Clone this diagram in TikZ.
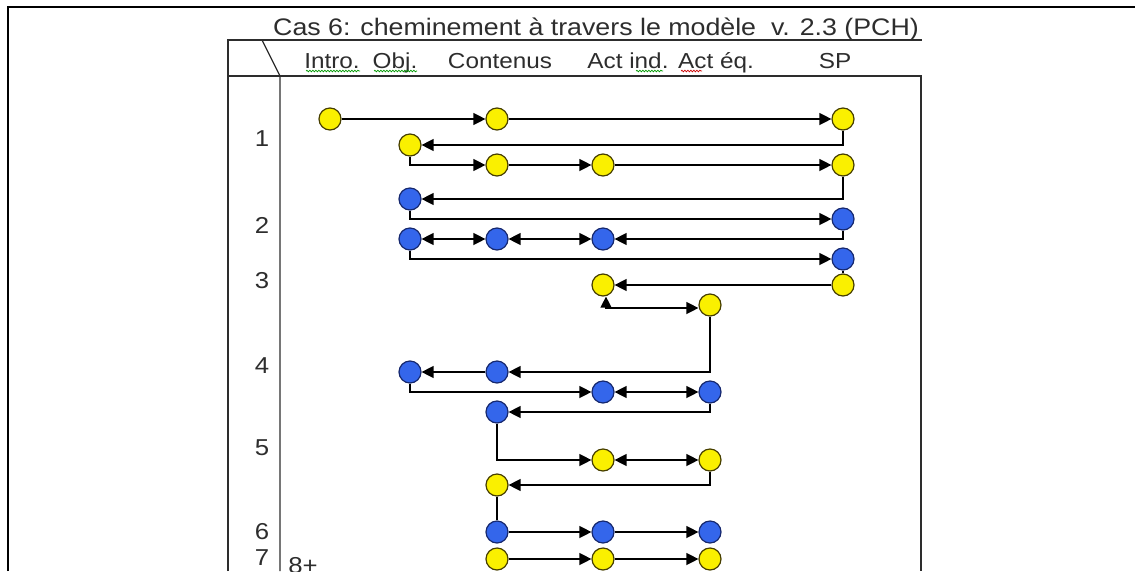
\documentclass[tikz,border=0pt]{standalone}
\usepackage{fontspec}
\setmainfont{Liberation Sans}[FakeStretch=1.12]
\usetikzlibrary{arrows.meta}
\usetikzlibrary{decorations.pathmorphing}

\definecolor{jaune}{RGB}{250,240,0}
\definecolor{jaunebord}{RGB}{70,62,0}
\definecolor{bleu}{RGB}{52,102,235}
\definecolor{bleubord}{RGB}{22,40,110}
\definecolor{gris}{RGB}{45,45,45}

\tikzset{
  pointJ/.style={circle, draw=jaunebord, fill=jaune, line width=1.2pt,
                 minimum size=22pt, inner sep=0pt},
  pointB/.style={circle, draw=bleubord, fill=bleu, line width=1.2pt,
                 minimum size=22pt, inner sep=0pt},
  fleche/.style={line width=1.3pt, -{Triangle[length=12pt,width=12pt]}},
  fleche2/.style={line width=1.3pt,
                  {Triangle[length=12pt,width=12pt]}-{Triangle[length=12pt,width=12pt]}},
  lien/.style={line width=1.3pt},
  cadre/.style={line width=1.2pt, draw=gris},
  entete/.style={anchor=base, font=\fontsize{21.7}{26}\selectfont},
  rang/.style={font=\fontsize{23}{27}\selectfont},
  souligne/.style={decorate, decoration={snake, amplitude=0.8pt, segment length=3pt},
                   line width=0.7pt}
}

\begin{document}
\begin{tikzpicture}[x=1pt, y=-1pt, text=gris]
\useasboundingbox (0,0) rectangle (1135,571);

% cadre et tableau
\draw[line width=2.5pt] (8,571) -- (8,7) -- (1135,7);
\draw[cadre] (228,571) -- (228,40) -- (922,40);
\draw[cadre] (228,76) -- (921,76) -- (921,571);
\draw[cadre] (262,40) -- (280,76) -- (280,571);

\node (titre) [anchor=base, font=\fontsize{23.9}{28}\selectfont]
      at (596,35) {Cas 6: cheminement à travers le modèle\ \ v. 2.3 (PCH)};
\node (intro) [entete] at (332,68) {Intro.};
\node (obj) [entete] at (395,68) {Obj.};
\node (cont) [entete] at (500,68) {Contenus};
\node (ind) [entete] at (628,68) {Act ind.};
\node (equ) [entete] at (716,68) {Act éq.};
\node (sp) [entete] at (835,68) {SP};

\draw[souligne, green!60!black] (306,71) -- (360,71);
\draw[souligne, green!60!black] (374,71) -- (417,71);
\draw[souligne, green!60!black] (636,71) -- (663,71);
\draw[souligne, red!80!black] (681,71) -- (702,71);

\node (n1) [rang] at (262,139) {1};
\node (n2) [rang] at (262,225) {2};
\node (n3) [rang] at (262,281) {3};
\node (n4) [rang] at (262,366) {4};
\node (n5) [rang] at (262,448) {5};
\node (n6) [rang] at (262,532) {6};
\node (n7) [rang] at (262,558) {7};
\node (n8) [rang] at (303,566) {8+};

% ronds
\node (a1) [pointJ] at (330,119) {};
\node (a2) [pointJ] at (497,119) {};
\node (a3) [pointJ] at (843,119) {};
\node (b1) [pointJ] at (410,145) {};
\node (c1) [pointJ] at (497,165) {};
\node (c2) [pointJ] at (603,165) {};
\node (c3) [pointJ] at (843,165) {};
\node (d1) [pointB] at (410,199) {};
\node (e1) [pointB] at (843,219) {};
\node (f1) [pointB] at (410,239) {};
\node (f2) [pointB] at (497,239) {};
\node (f3) [pointB] at (603,239) {};
\node (g1) [pointB] at (843,259) {};
\node (h1) [pointJ] at (843,285) {};
\node (h2) [pointJ] at (603,285) {};
\node (i1) [pointJ] at (710,305) {};
\node (j1) [pointB] at (497,372) {};
\node (j2) [pointB] at (410,372) {};
\node (k1) [pointB] at (603,392) {};
\node (k2) [pointB] at (710,392) {};
\node (l1) [pointB] at (497,412) {};
\node (m1) [pointJ] at (603,460) {};
\node (m2) [pointJ] at (710,460) {};
\node (p1) [pointJ] at (497,485) {};
\node (o1) [pointB] at (497,532) {};
\node (o2) [pointB] at (603,532) {};
\node (o3) [pointB] at (710,532) {};
\node (q1) [pointJ] at (497,559) {};
\node (q2) [pointJ] at (603,559) {};
\node (q3) [pointJ] at (710,559) {};

% chemins
\draw[fleche] (a1) -- (a2);
\draw[fleche] (a2) -- (a3);
\draw[fleche] (a3) |- (b1);
\draw[fleche] (b1) |- (c1);
\draw[fleche] (c1) -- (c2);
\draw[fleche] (c2) -- (c3);
\draw[fleche] (c3) |- (d1);
\draw[fleche] (d1) |- (e1);
\draw[fleche] (e1) |- (f3);
\draw[fleche2] (f3) -- (f2);
\draw[fleche2] (f2) -- (f1);
\draw[fleche] (f1) |- (g1);
\draw[lien] (g1) -- (h1);
\draw[fleche] (h1) -- (h2);
\draw[line width=1.3pt, {Triangle[length=12pt,width=12pt]}-{Triangle[length=11pt,width=11pt]}]
  ([yshift=-3pt]i1.west) -| ([xshift=3pt]h2.south);
\draw[fleche] (i1) |- (j1);
\draw[fleche] (j1) -- (j2);
\draw[fleche] (j2) |- (k1);
\draw[fleche2] (k1) -- (k2);
\draw[fleche] (k2) |- (l1);
\draw[fleche] (l1) |- (m1);
\draw[fleche2] (m1) -- (m2);
\draw[fleche] (m2) |- (p1);
\draw[lien] (p1) -- (o1);
\draw[fleche] (o1) -- (o2);
\draw[fleche] (o2) -- (o3);
\draw[fleche] (q1) -- (q2);
\draw[fleche] (q2) -- (q3);
\end{tikzpicture}
\end{document}
